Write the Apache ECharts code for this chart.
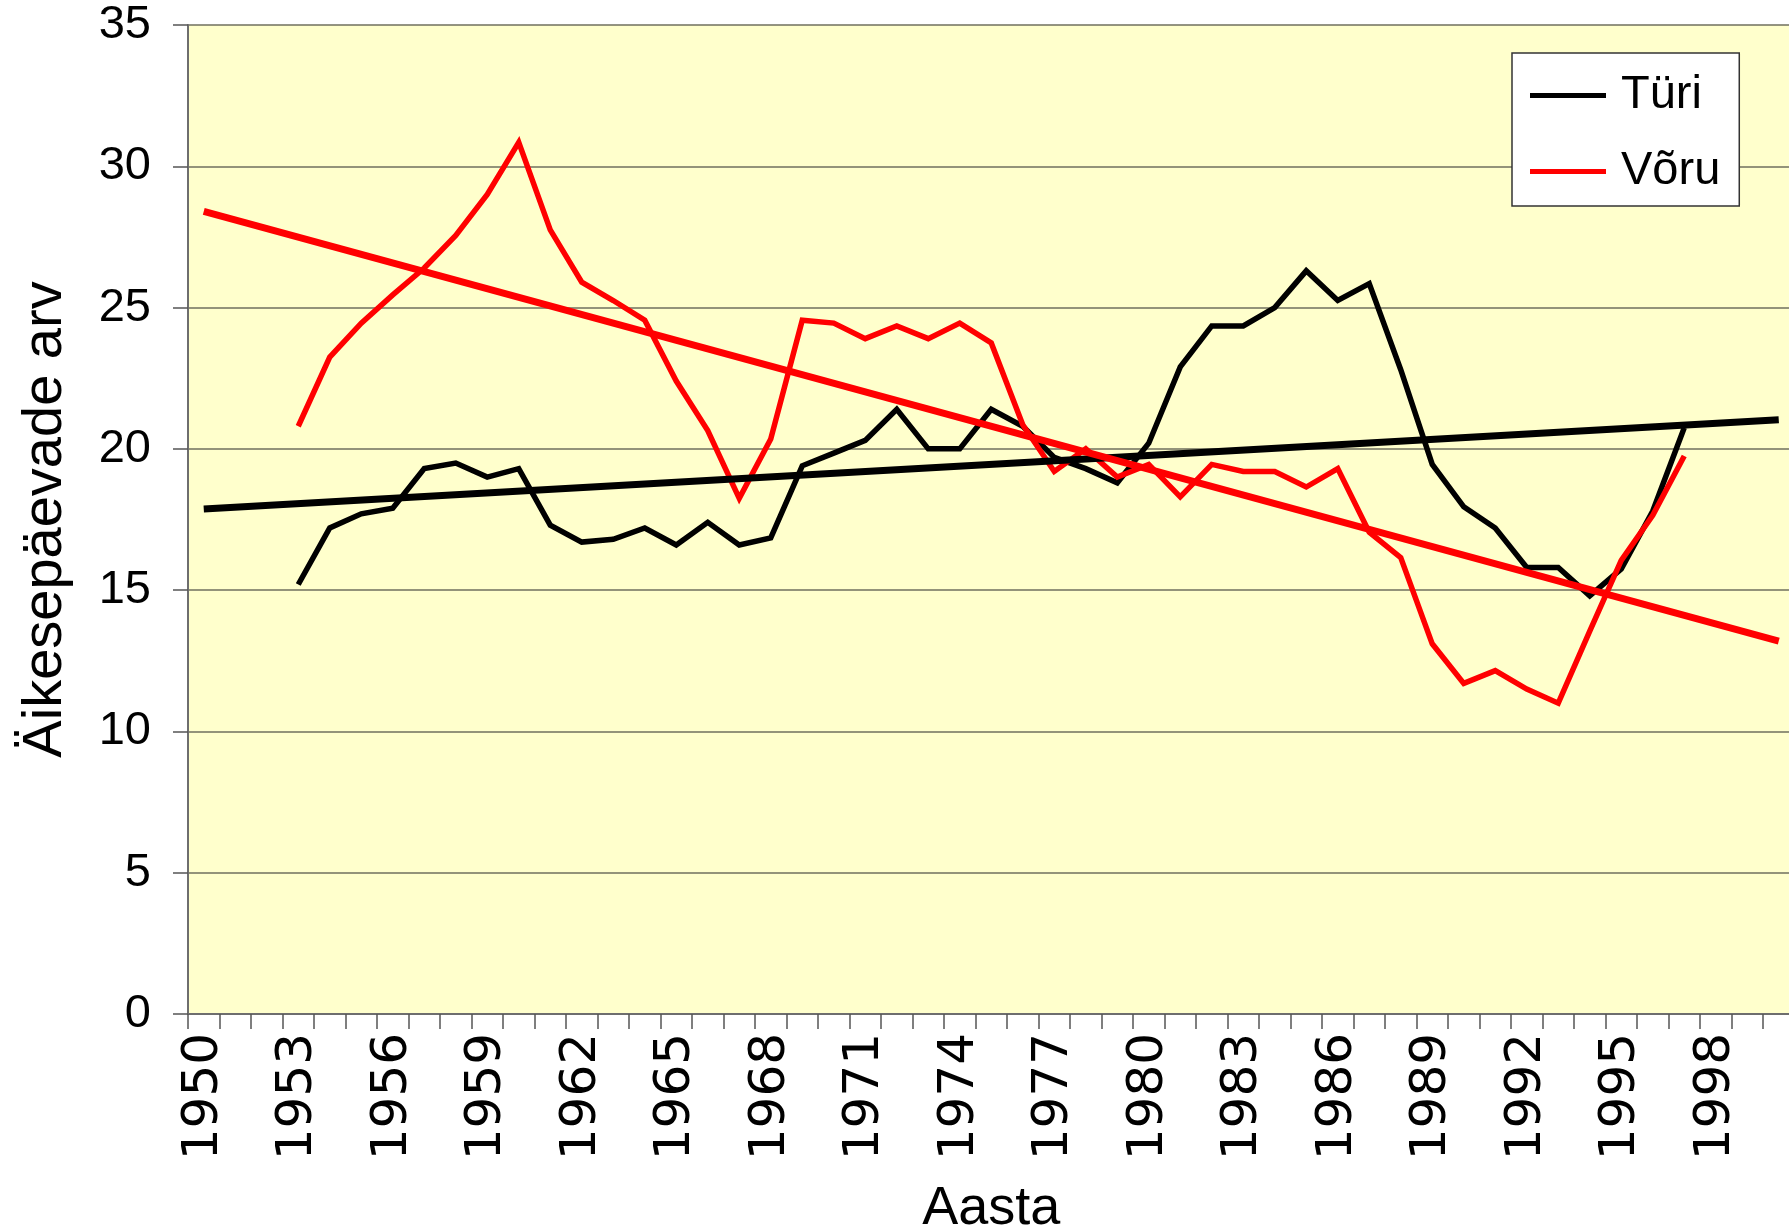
<!DOCTYPE html>
<html>
<head>
<meta charset="utf-8">
<script src="https://cdn.jsdelivr.net/npm/echarts@6/dist/echarts.min.js"></script>
<style>
html, body { margin: 0; padding: 0; overflow: hidden; background: #ffffff; }
#chart-div { width: 1800px; height: 1231px; }
</style>
</head>
<body>
<div id="chart-div"></div>
<script>

// category axis, one band per year
var years = ['1950', '1951', '1952', '1953', '1954', '1955', '1956', '1957', '1958', '1959',
             '1960', '1961', '1962', '1963', '1964', '1965', '1966', '1967', '1968', '1969',
             '1970', '1971', '1972', '1973', '1974', '1975', '1976', '1977', '1978', '1979',
             '1980', '1981', '1982', '1983', '1984', '1985', '1986', '1987', '1988', '1989',
             '1990', '1991', '1992', '1993', '1994', '1995', '1996', '1997', '1998', '1999',
             '2000'];

// observed years 1953 - 1997
var dataYears = years.slice(3, 48);

var turiValues = [15.2, 17.2, 17.7, 17.9, 19.3, 19.5, 19.0, 19.3, 17.3, 16.7,
                  16.8, 17.2, 16.6, 17.4, 16.6, 16.85, 19.4, 19.85, 20.3, 21.4,
                  20.0, 20.0, 21.4, 20.8, 19.7, 19.3, 18.8, 20.2, 22.9, 24.35,
                  24.35, 25.0, 26.3, 25.25, 25.85, 22.8, 19.45, 17.95, 17.2, 15.8,
                  15.8, 14.8, 15.75, 17.8, 20.75];

var voruValues = [20.8, 23.25, 24.45, 25.45, 26.4, 27.55, 29.0, 30.85, 27.75, 25.9,
                  25.25, 24.55, 22.4, 20.65, 18.25, 20.35, 24.55, 24.45, 23.9, 24.35,
                  23.9, 24.45, 23.75, 20.85, 19.2, 20.0, 19.0, 19.45, 18.3, 19.45,
                  19.2, 19.2, 18.65, 19.3, 17.05, 16.15, 13.1, 11.7, 12.15, 11.5,
                  11.0, 13.55, 16.05, 17.65, 19.75];

// linear trend lines, end points
var trendYears = ['1950', '2000'];
var turiTrend = [17.87, 21.03];
var voruTrend = [28.4, 13.2];

var fontName = "'Liberation Sans', Arial, sans-serif";
// wider face for the rotated year labels
var yearFont = "'DejaVu Sans', 'Liberation Sans', sans-serif";


const toPairs = function(xs, ys) {
    var out = new Array(xs.length);
    for (var i = 0; i < xs.length; i++) {
        out[i] = [xs[i], ys[i]];
    }
    return out;
}


const lineSeries = function(name, color, width, pairs) {
    return {
        name: name,
        type: 'line',
        data: pairs,
        symbol: 'none',
        smooth: false,
        animation: false,
        lineStyle: {color: color, width: width, cap: 'butt', join: 'miter'},
        itemStyle: {color: color}
    };
}


var opts = {
    backgroundColor: '#ffffff',
    textStyle: {fontFamily: fontName},
    grid: {
        left: 188, top: 25, bottom: 217, right: 5.5,
        containLabel: false,
        outerBoundsMode: 'none',
        show: true, backgroundColor: '#ffffcc', borderWidth: 0
    },
    legend: {
        data: ['Türi', 'Võru'],
        orient: 'vertical',
        left: 1512, top: 53,
        padding: [19, 19, 11, 18],
        itemGap: 29,
        itemWidth: 76, itemHeight: 5,
        icon: 'rect',
        backgroundColor: '#ffffff',
        borderColor: '#333333', borderWidth: 1.5,
        textStyle: {fontSize: 47, lineHeight: 47, color: '#000', fontFamily: fontName, padding: [0, 0, 0, 10]}
    },
    xAxis: {
        type: 'category',
        data: years,
        boundaryGap: true,
        name: 'Aasta',
        nameLocation: 'middle',
        nameGap: 168,
        nameTextStyle: {fontSize: 54, color: '#000', fontFamily: fontName},
        axisLine: {lineStyle: {color: '#6e6e6e', width: 2}},
        axisTick: {show: true, interval: 0, length: 15, lineStyle: {color: '#555', width: 1.5}},
        axisLabel: {interval: 2, rotate: 90, margin: 19, fontSize: 50, color: '#000', fontFamily: yearFont},
        splitLine: {show: false}
    },
    yAxis: {
        type: 'value',
        min: 0, max: 35, interval: 5,
        name: 'Äikesepäevade arv',
        nameLocation: 'middle',
        nameGap: 114,
        nameTextStyle: {fontSize: 56, color: '#000', fontFamily: fontName},
        axisLine: {show: true, lineStyle: {color: '#6e6e6e', width: 2}},
        axisTick: {show: true, length: 15, lineStyle: {color: '#555', width: 1.5}},
        axisLabel: {margin: 37, fontSize: 47, color: '#000', fontFamily: fontName},
        splitLine: {show: true, lineStyle: {color: '#6f6f5e', width: 1.5}}
    },
    series: [
        lineSeries('Türi', '#000000', 5.5, toPairs(dataYears, turiValues)),
        lineSeries('Võru', '#ff0000', 5.5, toPairs(dataYears, voruValues)),
        lineSeries('Türi trend', '#000000', 7, toPairs(trendYears, turiTrend)),
        lineSeries('Võru trend', '#ff0000', 7, toPairs(trendYears, voruTrend))
    ]
};

var myChartObj = echarts.init(document.getElementById('chart-div'), null, {renderer: 'canvas'});
myChartObj.setOption(opts);

</script>
</body>
</html>
